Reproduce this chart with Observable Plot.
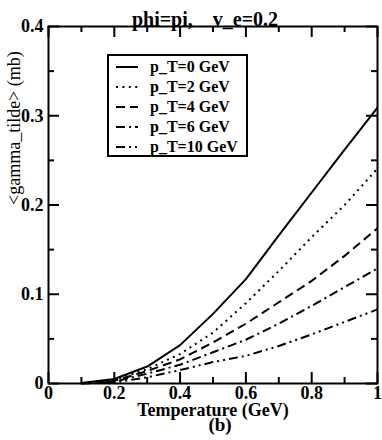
<!DOCTYPE html>
<html><head><meta charset="utf-8">
<script src="https://cdn.jsdelivr.net/npm/d3@7"></script>
<script src="https://cdn.jsdelivr.net/npm/@observablehq/plot@0.6"></script>
<style>
body{margin:0;background:#fff;}
#wrap{position:relative;width:382px;height:440px;overflow:hidden;}
#legend{position:absolute;left:107px;top:54px;width:137px;height:99px;border:2px solid #000;background:#fff;
  font-family:"Liberation Serif","Times New Roman",serif;font-weight:bold;font-size:16px;}
.row{position:absolute;left:0;height:20px;display:flex;align-items:center;}
.row svg{margin-left:7px;}
.row span{position:absolute;left:41px;white-space:nowrap;line-height:20px;top:0;}
</style></head><body><div id="wrap"></div>
<script>
// ---- data ----
const temperature = [0.1, 0.2, 0.3, 0.4, 0.5, 0.6, 0.7, 0.8, 0.9, 1.0];
const pT0  = [0.0005, 0.005, 0.019, 0.043, 0.078, 0.117, 0.166, 0.214, 0.262, 0.309];
const pT2  = [0.0004, 0.004, 0.016, 0.033, 0.057, 0.090, 0.126, 0.164, 0.200, 0.241];
const pT4  = [0.0003, 0.003, 0.014, 0.027, 0.046, 0.067, 0.091, 0.115, 0.143, 0.174];
const pT6  = [0.0002, 0.002, 0.011, 0.021, 0.035, 0.049, 0.067, 0.087, 0.108, 0.129];
const pT10 = [0.0001, 0.001, 0.007, 0.015, 0.024, 0.031, 0.042, 0.055, 0.069, 0.083];
const seriesNames = ["p_T=0 GeV", "p_T=2 GeV", "p_T=4 GeV", "p_T=6 GeV", "p_T=10 GeV"];
const seriesValues = [pT0, pT2, pT4, pT6, pT10];
const xTicks = [0, 0.2, 0.4, 0.6, 0.8, 1];
const xMinor = [0.1, 0.3, 0.5, 0.7, 0.9];
const yTicks = [0, 0.1, 0.2, 0.3, 0.4];
const yMinor = [0.05, 0.15, 0.25, 0.35];
const titleText = "phi=pi,\u00a0\u00a0\u00a0\u00a0v_e=0.2";
const xLabel = "Temperature (GeV)";
const yLabel = "<gamma_tilde> (mb)";
const caption = "(b)";

// ---- styling ----
const dashes = [null, "2,4.4", "9,5", "9,4,2,4", "9,4,2,4,2,4"];
const W = 382, H = 440, mL = 48, mR = 5, mT = 26, mB = 57;
const innerW = W - mL - mR, innerH = H - mT - mB;
const major = 11, minor = 6;
const font = "'Liberation Serif', 'Times New Roman', serif";

const lineMarks = seriesValues.map((vals, i) =>
  Plot.line(temperature.map((t, j) => ({t, v: vals[j]})), {
    x: "t", y: "v", stroke: "#000", strokeWidth: 2,
    strokeDasharray: dashes[i] || undefined, strokeLinecap: "butt", strokeLinejoin: "round"
  })
);

const tickStyle = {stroke: "#000", strokeWidth: 2};
const chart = Plot.plot({
  width: W, height: H,
  marginLeft: mL, marginRight: mR, marginTop: mT, marginBottom: mB,
  style: {fontFamily: font, fontSize: "18px", fontWeight: "bold", background: "#fff", color: "#000"},
  x: {domain: [0, 1]},
  y: {domain: [0, 0.4]},
  marks: [
    ...lineMarks,
    // ticks, inward on all four sides
    Plot.tickX(xTicks, {x: d => d, insetTop: innerH - major, ...tickStyle}),
    Plot.tickX(xTicks, {x: d => d, insetBottom: innerH - major, ...tickStyle}),
    Plot.tickX(xMinor, {x: d => d, insetTop: innerH - minor, ...tickStyle}),
    Plot.tickX(xMinor, {x: d => d, insetBottom: innerH - minor, ...tickStyle}),
    Plot.tickY(yTicks, {y: d => d, insetRight: innerW - major, ...tickStyle}),
    Plot.tickY(yTicks, {y: d => d, insetLeft: innerW - major, ...tickStyle}),
    Plot.tickY(yMinor, {y: d => d, insetRight: innerW - minor, ...tickStyle}),
    Plot.tickY(yMinor, {y: d => d, insetLeft: innerW - minor, ...tickStyle}),
    Plot.frame({stroke: "#000", strokeWidth: 2}),
    Plot.axisX({ticks: xTicks, tickSize: 0, tickPadding: 3, tickFormat: d => String(d), fontSize: 18, fontWeight: "bold", fill: "#000", label: null}),
    Plot.axisY({ticks: yTicks, tickSize: 0, tickPadding: 5, tickFormat: d => String(d), fontSize: 18, fontWeight: "bold", fill: "#000", label: null}),
    Plot.text([titleText], {text: d => d, frameAnchor: "top", dx: -8, dy: -15, fontSize: 20, fontWeight: "bold", fill: "#000"}),
    Plot.text([xLabel], {text: d => d, frameAnchor: "bottom", dx: 0, dy: 32, fontSize: 18, fontWeight: "bold", fill: "#000"}),
    Plot.text([caption], {text: d => d, frameAnchor: "bottom", dx: 7, dy: 47, fontSize: 19, fontWeight: "bold", fill: "#000"}),
    Plot.text([yLabel], {text: d => d, frameAnchor: "left", rotate: -90, dx: -34, fontSize: 18, fontWeight: "normal", fill: "#000"})
  ]
});

const wrap = document.getElementById("wrap");
wrap.appendChild(chart);

// legend
const legend = document.createElement("div");
legend.id = "legend";
seriesNames.forEach((name, i) => {
  const row = document.createElement("div");
  row.className = "row";
  row.style.top = (1 + i * 20) + "px";
  const ns = "http://www.w3.org/2000/svg";
  const s = document.createElementNS(ns, "svg");
  s.setAttribute("width", "22"); s.setAttribute("height", "20");
  const l = document.createElementNS(ns, "line");
  l.setAttribute("x1", "0"); l.setAttribute("x2", "22");
  l.setAttribute("y1", "10"); l.setAttribute("y2", "10");
  l.setAttribute("stroke", "#000"); l.setAttribute("stroke-width", "2");
  if (dashes[i]) l.setAttribute("stroke-dasharray", dashes[i]);
  s.appendChild(l);
  row.appendChild(s);
  const sp = document.createElement("span");
  sp.textContent = name;
  row.appendChild(sp);
  legend.appendChild(row);
});
wrap.appendChild(legend);
</script>
</body></html>
